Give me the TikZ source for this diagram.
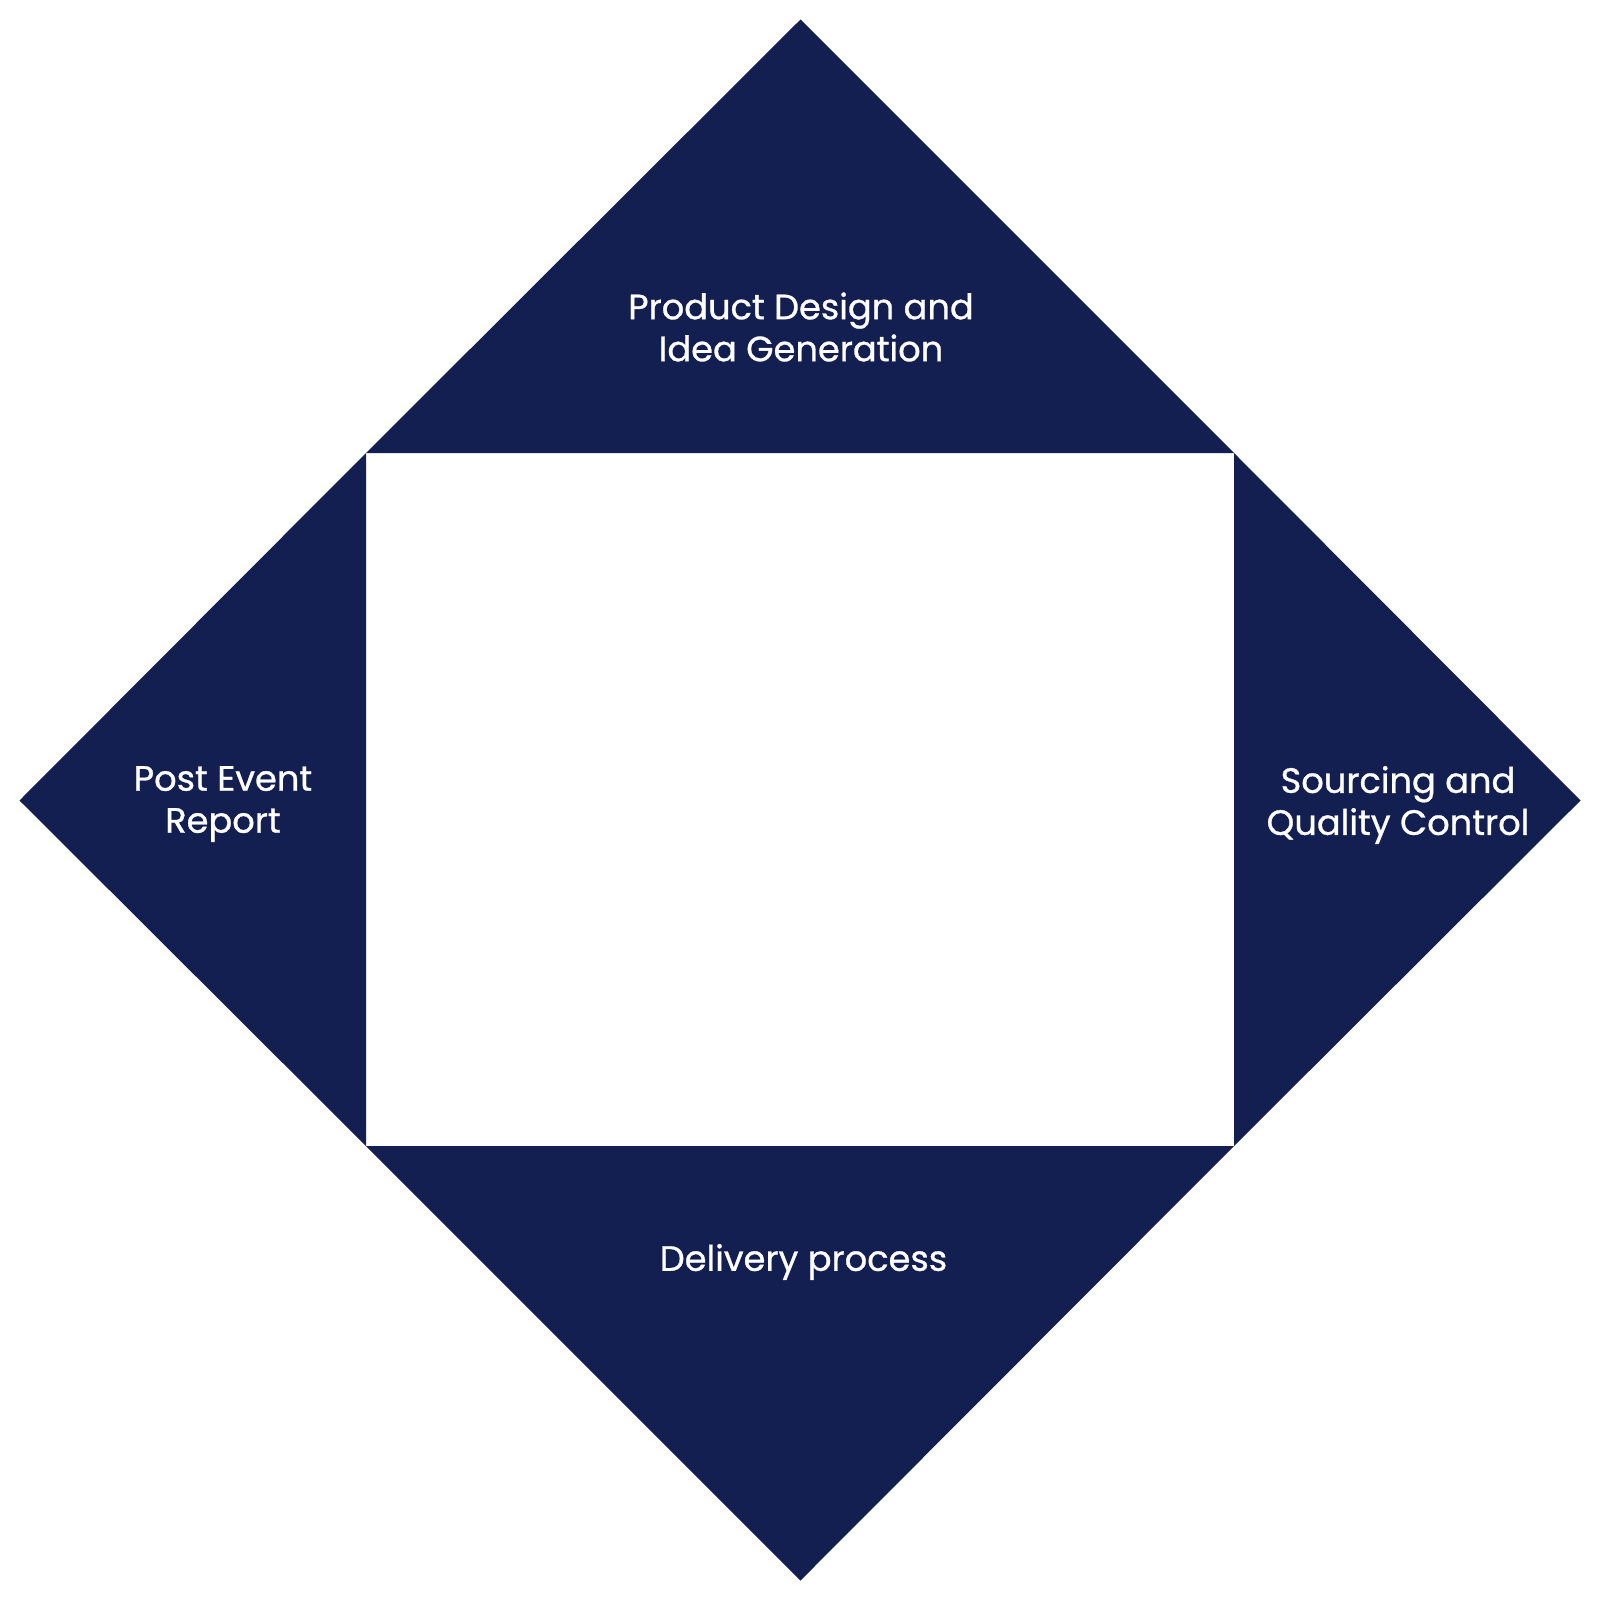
\documentclass[tikz,border=0pt]{standalone}
\usepackage{fontspec}
\setmainfont{Poppins}
\newfontfamily\medfont[FakeBold=0.8]{Poppins}
\definecolor{navy}{HTML}{131F50}
\begin{document}
\begin{tikzpicture}[x=1pt,y=-1pt,
  piece/.style={fill=navy,draw=none},
  lbl/.style={text=white,align=center,inner sep=0pt,font=\medfont\fontsize{35.2}{42}\selectfont}]
\useasboundingbox (0,0) rectangle (1600,1600);
\fill[white] (0,0) rectangle (1600,1600);
\coordinate (T) at (800.5,19.5);
\coordinate (L) at (19.5,800.5);
\coordinate (R) at (1580.5,800.5);
\coordinate (B) at (800.5,1580.5);
\coordinate (TL) at (366,453);
\coordinate (TR) at (1234,453);
\coordinate (BL) at (366,1146);
\coordinate (BR) at (1234,1146);
\fill[piece] (TL) -- (T) -- (TR) -- cycle;
\fill[piece] (TL) -- (L) -- (BL) -- cycle;
\fill[piece] (TR) -- (R) -- (BR) -- cycle;
\fill[piece] (BL) -- (B) -- (BR) -- cycle;
\node[lbl] (top) at (801,327) {Product Design and\\Idea Generation};
\node[lbl] (left) at (223,804) {Post Event\\Report};
\node[lbl] (right) at (1398,805) {Sourcing and\\Quality Control};
\node[lbl] (bottom) at (803.5,1262) {Delivery process};
\end{tikzpicture}
\end{document}
